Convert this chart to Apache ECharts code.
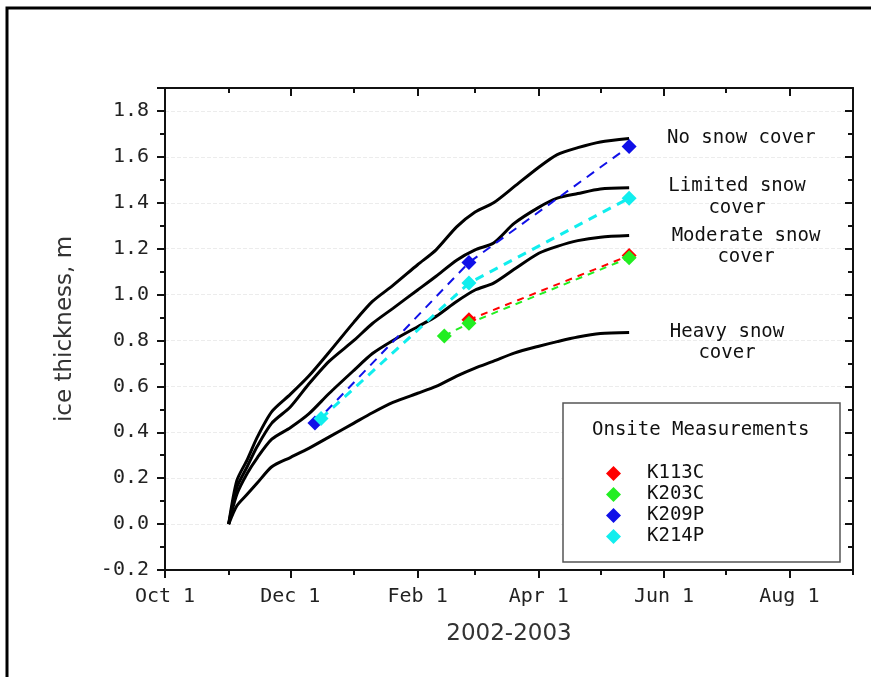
<!DOCTYPE html>
<html>
<head>
<meta charset="utf-8">
<script src="https://cdn.jsdelivr.net/npm/echarts@6/dist/echarts.min.js"></script>
<style>
  html, body { margin: 0; padding: 0; background: #fff; }
  #chart { width: 871px; height: 677px; }
</style>
</head>
<body>
<div id="chart"></div>
<script>
// dates of the modelled curves
var curveDates = ['2002-11-01', '2002-11-05', '2002-11-10', '2002-11-15', '2002-11-22', '2002-12-01',
    '2002-12-10', '2002-12-20', '2003-01-01', '2003-01-10', '2003-01-20', '2003-02-01', '2003-02-10',
    '2003-02-20', '2003-03-01', '2003-03-10', '2003-03-20', '2003-04-01', '2003-04-10', '2003-04-20',
    '2003-05-01', '2003-05-15'];
var noSnow = [0, 0.19, 0.28, 0.38, 0.49, 0.565, 0.645, 0.75, 0.88, 0.97, 1.04, 1.13, 1.195, 1.295, 1.36,
    1.40, 1.47, 1.555, 1.61, 1.64, 1.665, 1.68];
var limitedSnow = [0, 0.16, 0.25, 0.34, 0.44, 0.51, 0.61, 0.71, 0.80, 0.874, 0.94, 1.02, 1.08, 1.15, 1.195,
    1.225, 1.31, 1.38, 1.42, 1.44, 1.46, 1.465];
var moderateSnow = [0, 0.13, 0.22, 0.29, 0.37, 0.42, 0.48, 0.57, 0.67, 0.743, 0.80, 0.86, 0.905, 0.97, 1.02,
    1.05, 1.11, 1.18, 1.21, 1.235, 1.25, 1.257];
var heavySnow = [0, 0.08, 0.13, 0.18, 0.25, 0.29, 0.33, 0.38, 0.44, 0.485, 0.53, 0.57, 0.60, 0.645, 0.68,
    0.71, 0.745, 0.775, 0.795, 0.815, 0.83, 0.835];

// onsite measurements
var k113cDates = ['2003-02-26', '2003-05-15'];
var k113cValues = [0.89, 1.17];
var k203cDates = ['2003-02-14', '2003-02-26', '2003-05-15'];
var k203cValues = [0.82, 0.875, 1.16];
var k209pDates = ['2002-12-13', '2003-02-26', '2003-05-15'];
var k209pValues = [0.44, 1.14, 1.645];
var k214pDates = ['2002-12-16', '2003-02-26', '2003-05-15'];
var k214pValues = [0.46, 1.05, 1.42];

var majorTickDates = ['2002-10-01', '2002-12-01', '2003-02-01', '2003-04-01', '2003-06-01', '2003-08-01'];
var minorTickDates = ['2002-11-01', '2003-01-01', '2003-03-01', '2003-05-01', '2003-07-01', '2003-09-01'];
var tickLabels = ['Oct 1', 'Dec 1', 'Feb 1', 'Apr 1', 'Jun 1', 'Aug 1'];
var xStart = '2002-10-01', xEnd = '2003-09-01';

function day(s) {
    var p = s.split('-');
    return (Date.UTC(+p[0], +p[1] - 1, +p[2]) - Date.UTC(2002, 9, 1)) / 86400000;
}
function pairs(dates, vals) {
    return dates.map(function(d, i) { return [day(d), vals[i]]; });
}

var mono = 'DejaVu Sans Mono';
var majorX = majorTickDates.map(day);
var minorX = minorTickDates.map(day);

var chart = echarts.init(document.getElementById('chart'), null, { renderer: 'canvas' });

function xAxisDef(pos, ticks, len, inside, showLine, showLabel) {
    return {
        type: 'value', position: pos, min: day(xStart), max: day(xEnd),
        axisLine: { show: showLine, onZero: false, lineStyle: { color: '#111', width: 2 } },
        axisTick: { show: true, customValues: ticks, length: len, inside: inside, lineStyle: { color: '#111', width: 2 } },
        axisLabel: {
            show: showLabel, customValues: majorX, margin: 17,
            color: '#222', fontFamily: mono, fontSize: 20,
            formatter: function(v) { var i = majorX.indexOf(Math.round(v)); return i < 0 ? '' : tickLabels[i]; }
        },
        splitLine: { show: false }
    };
}

var xAxes = [
    xAxisDef('bottom', majorX, 8, false, true, true),
    xAxisDef('bottom', minorX, 5, false, false, false),
    xAxisDef('top', majorX, 8, true, true, false),
    xAxisDef('top', minorX, 5, true, false, false)
];
xAxes[0].name = '2002-2003';
xAxes[0].nameLocation = 'middle';
xAxes[0].nameGap = 53;
xAxes[0].nameTextStyle = { color: '#333', fontFamily: 'DejaVu Sans', fontSize: 23 };

function yAxisDef(pos, inside, showLabel) {
    return {
        type: 'value', position: pos, min: -0.2, max: 1.9, interval: 0.2,
        axisLine: { show: true, onZero: false, lineStyle: { color: '#111', width: 2 } },
        axisTick: { show: true, length: 8, inside: inside, lineStyle: { color: '#111', width: 2 } },
        minorTick: { show: true, splitNumber: 2, length: 5, lineStyle: { color: '#111', width: 2 } },
        axisLabel: {
            show: showLabel, showMaxLabel: false, margin: 16,
            color: '#222', fontFamily: mono, fontSize: 20,
            formatter: function(v) { return v.toFixed(1); }
        },
        splitLine: { show: pos === 'left', lineStyle: { color: '#ececec', type: 'dashed' } }
    };
}
var yAxes = [yAxisDef('left', false, true), yAxisDef('right', true, false)];
yAxes[0].name = 'ice thickness, m';
yAxes[0].nameLocation = 'middle';
yAxes[0].nameGap = 88;
yAxes[0].nameTextStyle = { color: '#333', fontFamily: 'DejaVu Sans', fontSize: 23 };

function curve(name, vals) {
    return {
        name: name, type: 'line', data: pairs(curveDates, vals), showSymbol: false, smooth: 0.25,
        lineStyle: { color: '#000', width: 3 }, itemStyle: { color: '#000' }, z: 2, animation: false
    };
}
function onsite(name, dates, vals, color, width, dash) {
    return {
        name: name, type: 'line', data: pairs(dates, vals),
        symbol: 'diamond', symbolSize: 15,
        lineStyle: { color: color, width: width, type: dash },
        itemStyle: { color: color }, z: 3, animation: false
    };
}

chart.setOption({
    backgroundColor: '#fff',
    animation: false,
    grid: { left: 165, right: 18, top: 88, bottom: 107 },
    xAxis: xAxes,
    yAxis: yAxes,
    legend: {
        orient: 'vertical', left: 601, top: 459, z: 20,
        icon: 'diamond', itemWidth: 15, itemHeight: 15, itemGap: 2,
        data: ['K113C', 'K203C', 'K209P', 'K214P'],
        textStyle: { color: '#111', fontFamily: mono, fontSize: 19, padding: [0, 0, 0, 21] },
        selectedMode: false
    },
    graphic: [
        { type: 'rect', shape: { x: 7, y: 8, width: 900, height: 700 }, style: { fill: null, stroke: '#000', lineWidth: 3 }, silent: true },
        { type: 'rect', shape: { x: 563, y: 403, width: 277, height: 159 }, style: { fill: '#fff', stroke: '#555', lineWidth: 1.5 }, z: 5 },
        { type: 'text', x: 592, y: 430, z: 6, style: { text: 'Onsite Measurements', font: '19px ' + mono, fill: '#111', textVerticalAlign: 'middle' } },
        { type: 'text', x: 667, y: 138, z: 6, style: { text: 'No snow cover', font: '19px ' + mono, fill: '#111', textVerticalAlign: 'middle' } },
        { type: 'text', x: 737, y: 175, z: 6, style: { text: 'Limited snow\ncover', font: '19px ' + mono, lineHeight: 22, fill: '#111', textAlign: 'center' } },
        { type: 'text', x: 746, y: 226, z: 6, style: { text: 'Moderate snow\ncover', font: '19px ' + mono, lineHeight: 21, fill: '#111', textAlign: 'center' } },
        { type: 'text', x: 727, y: 322, z: 6, style: { text: 'Heavy snow\ncover', font: '19px ' + mono, lineHeight: 21, fill: '#111', textAlign: 'center' } }
    ],
    series: [
        curve('No snow cover', noSnow),
        curve('Limited snow cover', limitedSnow),
        curve('Moderate snow cover', moderateSnow),
        curve('Heavy snow cover', heavySnow),
        onsite('K113C', k113cDates, k113cValues, '#ff0000', 2, [7, 6]),
        onsite('K203C', k203cDates, k203cValues, '#22ee22', 2, [7, 6]),
        onsite('K209P', k209pDates, k209pValues, '#1010e8', 2, [9, 7]),
        onsite('K214P', k214pDates, k214pValues, '#11eeee', 3, [9, 7])
    ]
});
</script>
</body>
</html>
